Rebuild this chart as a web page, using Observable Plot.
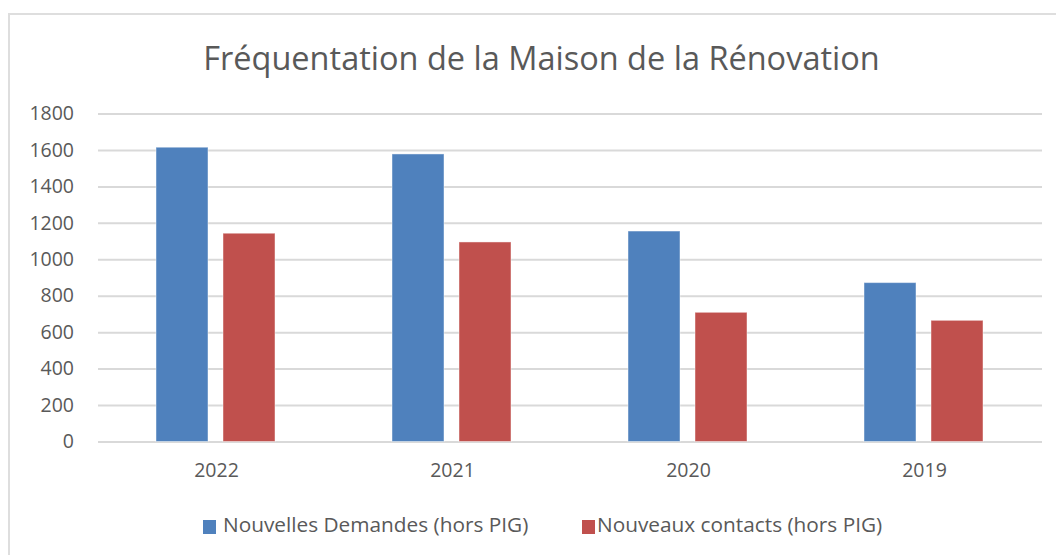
<!DOCTYPE html>
<html>
<head>
<meta charset="utf-8">
<script src="https://cdn.jsdelivr.net/npm/d3@7"></script>
<script src="https://cdn.jsdelivr.net/npm/@observablehq/plot@0.6"></script>
<style>
  html, body { margin: 0; padding: 0; background: #fff; }
  body { width: 1056px; height: 555px; position: relative; overflow: hidden; font-family: "Open Sans", sans-serif; color: #595959; }
  #frame { position: absolute; left: 8px; top: 13px; width: 1080px; height: 580px; border: 2px solid #dedede; box-sizing: border-box; }
  #title { position: absolute; left: 0; width: 1083px; top: 42px; text-align: center; font-size: 32.5px; line-height: 32.5px; color: #595959; white-space: nowrap; }
  #chart { position: absolute; left: 0; top: 95px; }
  #legend { position: absolute; top: 514px; left: 0; width: 1056px; height: 21px; font-size: 20.8px; line-height: 20.8px; color: #595959; }
  .sw { position: absolute; top: 6px; width: 13px; height: 14px; }
  .lbl { position: absolute; top: 0; white-space: nowrap; }
</style>
</head>
<body>
<div id="frame"></div>
<div id="title">Fréquentation de la Maison de la Rénovation</div>
<div id="chart"></div>
<div id="legend"></div>
<script>
const years = ["2022", "2021", "2020", "2019"];
const seriesNames = ["Nouvelles Demandes (hors PIG)", "Nouveaux contacts (hors PIG)"];
const nouvellesDemandes = [1615, 1578, 1155, 872];
const nouveauxContacts = [1143, 1095, 709, 665];
const seriesColors = ["#4f81bd", "#c0504d"];
const yTicks = [0, 200, 400, 600, 800, 1000, 1200, 1400, 1600, 1800];

const data = [];
years.forEach((y, i) => {
  data.push({year: y, series: seriesNames[0], value: nouvellesDemandes[i]});
  data.push({year: y, series: seriesNames[1], value: nouveauxContacts[i]});
});

const chart = Plot.plot({
  width: 1056,
  height: 400,
  marginLeft: 98,
  marginRight: 14,
  marginTop: 18.5,
  marginBottom: 53.5,
  style: {fontFamily: "'Open Sans', sans-serif", fontSize: "19.5px", color: "#595959", background: "transparent", overflow: "visible"},
  fx: {domain: years, padding: 0, label: null, axis: null},
  x: {domain: seriesNames, paddingInner: 0.222, paddingOuter: 0.859, axis: null},
  y: {domain: [0, 1800], label: null, axis: null},
  color: {domain: seriesNames, range: seriesColors},
  marks: [
    Plot.gridY(yTicks, {stroke: "#d9d9d9", strokeOpacity: 1, strokeWidth: 2}),
    Plot.axisY(yTicks, {tickSize: 0, tickPadding: 24.5, label: null, fill: "#595959", tickFormat: d => String(d)}),
    Plot.barY(data, {fx: "year", x: "series", y: "value", fill: "series", stroke: "#ffffff", strokeOpacity: 0.45, strokeWidth: 1}),
    Plot.axisFx({anchor: "bottom", tickSize: 0, tickPadding: 21, label: null, fill: "#595959"})
  ]
});
document.getElementById("chart").appendChild(chart);

const legend = document.getElementById("legend");
const swX = [203, 582];
const txtX = [223, 597];
seriesNames.forEach((name, i) => {
  const sw = document.createElement("div");
  sw.className = "sw";
  sw.style.left = swX[i] + "px";
  sw.style.background = seriesColors[i];
  legend.appendChild(sw);
  const lbl = document.createElement("div");
  lbl.className = "lbl";
  lbl.style.left = txtX[i] + "px";
  lbl.textContent = name;
  legend.appendChild(lbl);
});
</script>
</body>
</html>
